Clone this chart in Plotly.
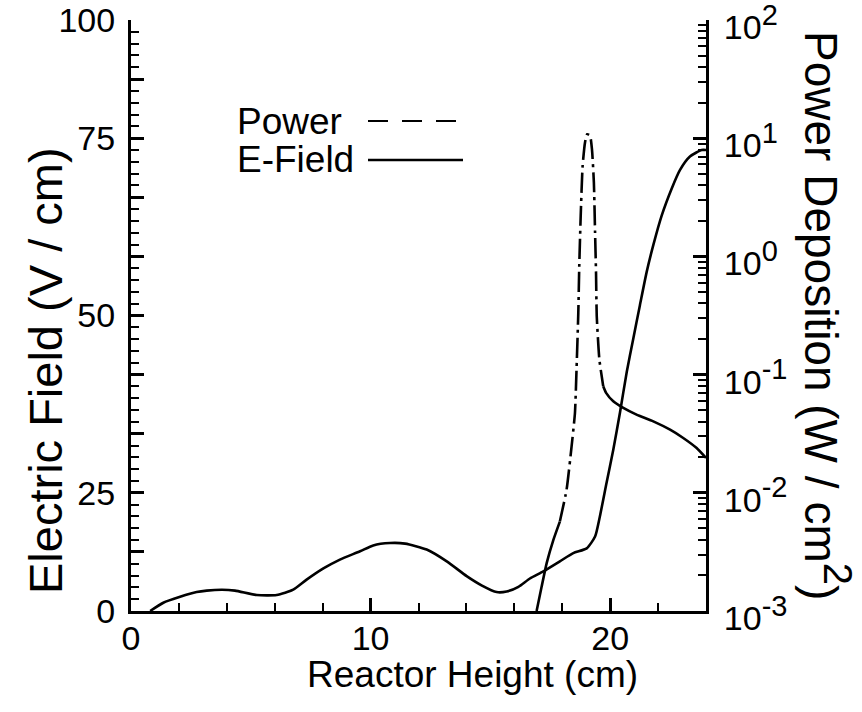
import plotly.graph_objects as go

# Reactor height positions (cm) and electric field magnitude (left axis units)
efield_x = [0.8, 1.35, 2.05, 2.74, 3.16, 3.8, 4.34, 5.25, 6.08, 6.77, 7.33, 8.03,
            8.72, 9.56, 10.11, 10.81, 11.44, 12.34, 13.18, 14.01, 14.65, 15.26,
            15.68, 16.17, 16.65, 17.21, 17.9, 18.46, 19.02, 19.37, 19.57, 19.85,
            20.13, 20.41, 20.69, 20.96, 21.24, 21.52, 21.8, 22.15, 22.57, 22.91,
            23.33, 23.82, 24.0]
efield_y = [0.0, 1.4, 2.4, 3.2, 3.45, 3.6, 3.45, 2.7, 2.7, 3.6, 5.3, 7.2,
            8.7, 10.1, 11.1, 11.5, 11.4, 10.4, 8.4, 5.9, 4.3, 3.2,
            3.3, 4.1, 5.5, 6.7, 8.4, 9.8, 10.6, 12.6, 16.0, 21.7,
            27.3, 33.6, 40.4, 46.0, 51.7, 57.3, 61.9, 66.9, 71.5, 74.6,
            76.9, 78.0, 78.0]

# Power deposition (W / cm^2) along the reactor height
power_x = [16.93, 17.14, 17.35, 17.63, 17.9, 18.18, 18.39, 18.53, 18.6, 18.67,
           18.71, 18.77, 18.85, 18.95, 19.04, 19.16, 19.24, 19.32, 19.37, 19.41,
           19.44, 19.55, 19.71, 19.83, 20.13, 20.55, 21.1, 21.8, 22.5, 23.05,
           23.61, 24.0]
power_y = [0.001, 0.00161, 0.00254, 0.0040, 0.00571, 0.0106, 0.0247, 0.0473, 0.117, 0.333,
           0.828, 2.2, 5.82, 9.2, 10.8, 10.5, 8.07, 4.22, 1.59, 0.728,
           0.312, 0.134, 0.0796, 0.070, 0.0594, 0.0522, 0.0458, 0.0402, 0.0342, 0.0291,
           0.0239, 0.0197]

# Axis tick labels
x_ticks = [0, 10, 20]
x_tick_text = ["0", "10", "20"]
x_minor = [2, 4, 6, 8, 12, 14, 16, 18, 22, 24]
left_tick_vals = [0, 10, 20, 30, 40, 50, 60, 70, 80, 90, 100]
left_tick_text = ["0", "", "25", "", "", "50", "", "", "75", "", "100"]
left_minor = [v for v in range(2, 100, 2) if v % 10]
right_tick_vals = [1e-3, 1e-2, 1e-1, 1e0, 1e1, 1e2]
right_tick_exp = ["-3", "-2", "-1", "0", "1", "2"]
right_minor = [m * 10.0 ** d for d in range(-3, 2) for m in range(2, 10)]

FONT = "Liberation Sans, Arial, Helvetica, sans-serif"
BLACK = "black"

fig = go.Figure()

fig.add_trace(go.Scatter(
    x=efield_x, y=efield_y, mode="lines", name="E-Field",
    line=dict(color=BLACK, width=2.6, shape="spline", smoothing=0.6),
    showlegend=False,
))

# Power curve: solid at the foot, dash-dot through the steep peak, solid in the tail
power_pieces = [(0, 5, "solid"), (4, 23, "20px,5px,3px,5px"), (22, len(power_x), "solid")]
for start, stop, dash in power_pieces:
    fig.add_trace(go.Scatter(
        x=power_x[start:stop], y=power_y[start:stop], mode="lines", name="Power",
        yaxis="y2",
        line=dict(color=BLACK, width=2.6, dash=dash, shape="spline", smoothing=0.5),
        showlegend=False,
    ))

PLOT_L, PLOT_R, PLOT_T, PLOT_B = 131, 706, 20, 611
W, H = 862, 712
pw, ph = PLOT_R - PLOT_L, PLOT_B - PLOT_T


def px(xp):
    return (xp - PLOT_L) / pw


def py(yp):
    return (PLOT_B - yp) / ph


tick_font = dict(family=FONT, size=34, color=BLACK)
major = dict(ticks="inside", ticklen=13, tickwidth=2.5, tickcolor=BLACK)


def minor_ticks(vals):
    return dict(tickmode="array", tickvals=vals, ticks="inside",
                ticklen=8, tickwidth=2, tickcolor=BLACK)


fig.update_layout(
    width=W, height=H,
    margin=dict(l=PLOT_L, r=W - PLOT_R, t=PLOT_T, b=H - PLOT_B, pad=0, autoexpand=False),
    paper_bgcolor="white", plot_bgcolor="white",
    font=dict(family=FONT, color=BLACK),
    xaxis=dict(
        range=[0, 24], showgrid=False, zeroline=False, automargin=False,
        showline=True, linecolor=BLACK, linewidth=3,
        tickmode="array", tickvals=x_ticks, ticktext=x_tick_text, **major,
        minor=minor_ticks(x_minor),
        tickfont=tick_font, ticklabelstandoff=-5, ticklabeloverflow="allow",
    ),
    yaxis=dict(
        range=[0, 100], showgrid=False, zeroline=False, automargin=False,
        showline=True, linecolor=BLACK, linewidth=3,
        tickmode="array", tickvals=left_tick_vals, ticktext=left_tick_text, **major,
        minor=minor_ticks(left_minor),
        tickfont=tick_font, ticklabelstandoff=6, ticklabeloverflow="allow",
    ),
    yaxis2=dict(
        type="log", range=[-3, 2], overlaying="y", side="right", anchor="x",
        showgrid=False, zeroline=False, automargin=False,
        showline=True, linecolor=BLACK, linewidth=3,
        tickmode="array", tickvals=right_tick_vals,
        ticktext=["10<sup><span style='font-size:29px'>%s</span></sup>" % e for e in right_tick_exp],
        **major,
        minor=minor_ticks(right_minor),
        tickfont=tick_font, ticklabelstandoff=8, ticklabelshift=7,
        ticklabeloverflow="allow",
    ),
    showlegend=False,
)

# Axis titles
fig.add_annotation(
    text="Reactor Height (cm)", xref="paper", yref="paper",
    x=px(472), y=py(674), xanchor="center", yanchor="middle", showarrow=False,
    font=dict(family=FONT, size=37, color=BLACK),
)
fig.add_annotation(
    text="Electric Field (V / cm)", xref="paper", yref="paper",
    x=px(45), y=py(371), xanchor="center", yanchor="middle", showarrow=False,
    textangle=-90, font=dict(family=FONT, size=47, color=BLACK),
)
fig.add_annotation(
    text="Power Deposition (W / cm<sup><span style='font-size:40px'>2</span></sup>)",
    xref="paper", yref="paper",
    x=px(828), y=py(315), xanchor="center", yanchor="middle", showarrow=False,
    textangle=90, font=dict(family=FONT, size=46, color=BLACK),
)

# Legend: label text followed by its line sample
legend_font = dict(family=FONT, size=37, color=BLACK)
fig.add_annotation(text="Power", xref="paper", yref="paper", x=px(235), y=py(121),
                   xanchor="left", yanchor="middle", showarrow=False, font=legend_font)
fig.add_annotation(text="E-Field", xref="paper", yref="paper", x=px(235), y=py(160),
                   xanchor="left", yanchor="middle", showarrow=False, font=legend_font)
fig.add_shape(type="line", xref="paper", yref="paper",
              x0=px(368), x1=px(462), y0=py(121), y1=py(121),
              line=dict(color=BLACK, width=2, dash="20px,14px"))
fig.add_shape(type="line", xref="paper", yref="paper",
              x0=px(368), x1=px(463), y0=py(160), y1=py(160),
              line=dict(color=BLACK, width=2.5))

fig.write_html("out.html")
